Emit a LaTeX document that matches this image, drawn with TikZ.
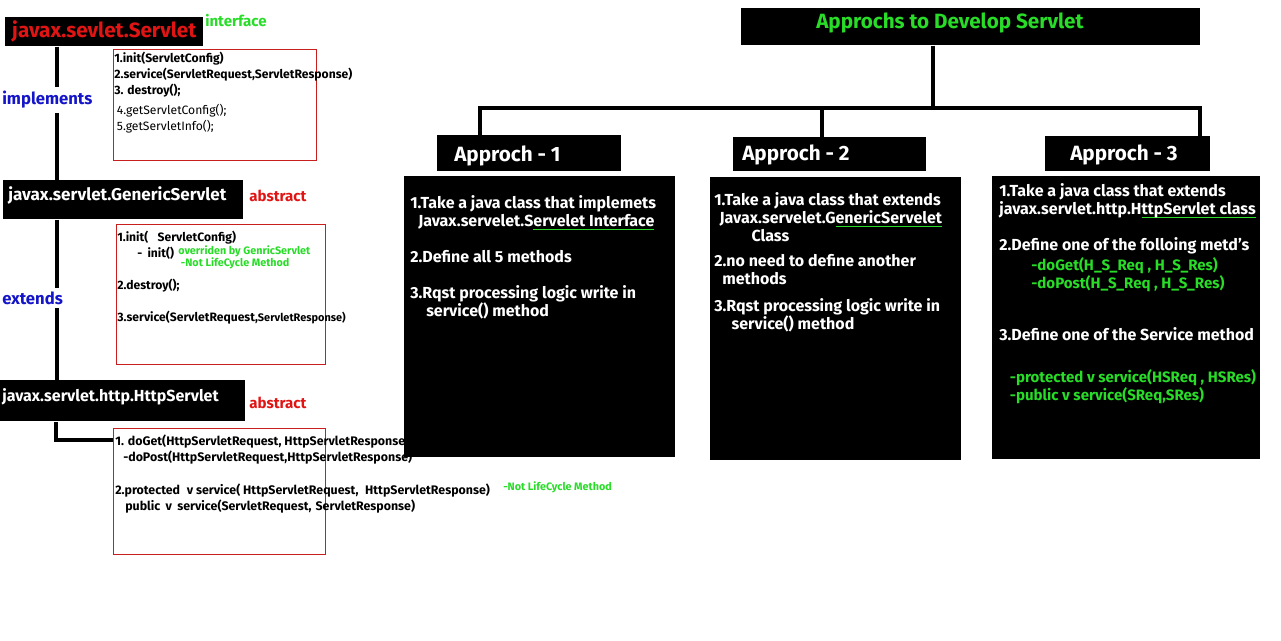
\documentclass[tikz,border=0pt]{standalone}
\usepackage{fontspec}
\setmainfont{Fira Sans}
\definecolor{grn}{RGB}{40,220,40}
\definecolor{redtxt}{RGB}{225,20,20}
\definecolor{bluetxt}{RGB}{20,20,200}
\definecolor{boxred}{RGB}{200,30,30}
\pgfdeclarelayer{bg}
\pgfsetlayers{bg,main}
\newcommand{\gund}[1]{\setbox0\hbox{#1}\rlap{\color{grn}\rule[-3pt]{\wd0}{1pt}}\box0}
\newcommand{\gtxt}[1]{\textcolor{grn}{\fontsize{11.3}{13.5}\selectfont #1}}
\tikzstyle{blk}=[fill=black, inner sep=0pt, anchor=north west]
\tikzstyle{members}=[draw=boxred, line width=0.75pt, inner sep=0pt, anchor=north west]
\tikzstyle{wire}=[-, line width=3.6pt]
\tikzstyle{lbl}=[anchor=west, inner sep=0pt, font=\fontsize{11.3}{13}\selectfont\bfseries]
\tikzstyle{head}=[anchor=west, inner sep=0pt, text=white, font=\fontsize{15.5}{17}\selectfont\bfseries]
\tikzstyle{body}=[anchor=north west, inner sep=0pt, align=left, text=white, font=\fontsize{12}{13.5}\selectfont\bfseries]
\tikzstyle{code}=[anchor=north west, inner sep=0pt, align=left, font=\fontsize{9.1}{12}\selectfont\bfseries]
\tikzstyle{note}=[anchor=north west, inner sep=0pt, align=left, text=grn, font=\fontsize{8.1}{9}\selectfont\bfseries]

\begin{document}
\begin{tikzpicture}[x=0.75pt, y=-0.75pt]
    \useasboundingbox (0,0) rectangle (1281,640);

    % class hierarchy
    \node [blk, minimum width=148.5pt, minimum height=21.75pt, text=redtxt, font=\fontsize{15.5}{17}\selectfont\bfseries] (srv) at (5,17) {javax.sevlet.Servlet};
    \node [lbl, text=grn] (srvkind) at (205,21) {interface};
    \node [members, minimum width=152.25pt, minimum height=83.25pt] (m1) at (113,49) {};
    \node [code] (m1txt) at (114,52) {1.init(ServletConfig)\\
        2.service(ServletRequest,ServletResponse)\\
        3. destroy();\\[3pt]
        \mdseries\hspace{2pt}4.getServletConfig();\\
        \mdseries\hspace{2pt}5.getServletInfo();};

    \node [blk, minimum width=180pt, minimum height=29.25pt] (gen) at (3,180) {};
    \node [lbl, text=white, font=\fontsize{12.8}{14}\selectfont\bfseries] (gentxt) at (8,195) {javax.servlet.GenericServlet};
    \node [lbl, text=redtxt] (genkind) at (249,196) {abstract};
    \node [members, minimum width=156.75pt, minimum height=105pt] (m2) at (116,224) {};
    \node [code] (m2txt) at (117,230.5) {1.init(\hspace{7pt}ServletConfig)\\
        \hspace{15pt}-\hspace{4pt}init()\\[12pt]
        2.destroy();\\[12pt]
        3.service(ServletRequest,{\fontsize{8.2}{9}\selectfont ServletResponse)}};
    \node [note] (m2note) at (178,245) {overriden by GenricServlet\\
        \hspace{2pt}-Not LifeCycle Method};

    \node [blk, minimum width=183.75pt, minimum height=30.75pt] (http) at (0,380) {};
    \node [lbl, text=white, font=\fontsize{12}{14}\selectfont\bfseries] (httptxt) at (2,397) {javax.servlet.http.HttpServlet};
    \node [lbl, text=redtxt] (httpkind) at (249,403) {abstract};
    \node [members, minimum width=159pt, minimum height=94.5pt] (m3) at (113,428) {};
    \node [code, font=\fontsize{9.3}{12}\selectfont\bfseries] (m3txt) at (115,435) {1. doGet(HttpServletRequest, HttpServletResponse)\\
        \hspace{6pt}-doPost(HttpServletRequest,HttpServletResponse)\\[12.75pt]
        2.protected\hspace{5pt}v service( HttpServletRequest,\hspace{5pt}HttpServletResponse)\\
        \hspace{7.5pt}public\hspace{4pt}v\hspace{4pt}service(ServletRequest,\hspace{3pt}ServletResponse)};
    \node [note] (m3note) at (503,481) {-Not LifeCycle Method};

    \node [lbl, text=bluetxt, fill=white, inner ysep=3pt, font=\fontsize{12.5}{14}\selectfont\bfseries] (impl) at (2,100) {implements};
    \node [lbl, text=bluetxt, fill=white, inner ysep=3pt, font=\fontsize{12.5}{14}\selectfont\bfseries] (ext) at (2,298) {extends};

    \coordinate (spine) at (57,0);
    \coordinate (elbow) at (56,440);

    % approaches
    \node [blk, minimum width=344.25pt, minimum height=27.75pt] (title) at (741,8) {};
    \node [head, text=grn] (titletxt) at (816,23) {Approchs to Develop Servlet};

    \node [blk, minimum width=138pt, minimum height=27pt] (ap1) at (437,135) {};
    \node [head] (ap1txt) at (454,156) {Approch - 1};
    \node [blk, minimum width=144.75pt, minimum height=25.5pt] (ap2) at (733,137) {};
    \node [head] (ap2txt) at (742,155) {Approch - 2};
    \node [blk, minimum width=123.75pt, minimum height=26.25pt] (ap3) at (1045,136) {};
    \node [head] (ap3txt) at (1070,155) {Approch - 3};

    \node [blk, minimum width=203.25pt, minimum height=210.75pt] (c1) at (404,176) {};
    \node [body] (c1txt) at (410,195) {1.Take a java class that implemets\\
        \hspace{6pt}Javax.servelet.S\gund{ervelet Interface}\\[13.5pt]
        2.Define all 5 methods\\[13.5pt]
        3.Rqst processing logic write in\\
        \hspace{12pt}service() method};

    \node [blk, minimum width=188.25pt, minimum height=212.25pt] (c2) at (710,177) {};
    \node [body] (c2txt) at (714,192) {1.Take a java class that extends\\
        \hspace{4pt}Javax.servelet.G\gund{enericServelet}\\
        \hspace{28pt}Class\\[5.25pt]
        2.no need to define another\\
        \hspace{6pt}methods\\[6.75pt]
        3.Rqst processing logic write in\\
        \hspace{13pt}service() method};

    \node [blk, minimum width=201pt, minimum height=212.25pt] (c3) at (992,176) {};
    \node [body] (c3txt) at (999,183) {1.Take a java class that extends\\
        javax.servlet.http.H\gund{ttpServlet class}\\[13.5pt]
        2.Define one of the folloing metd's\\[1.5pt]
        \hspace{24pt}\gtxt{-doGet(H\_S\_Req , H\_S\_Res)}\\
        \hspace{24pt}\gtxt{-doPost(H\_S\_Req , H\_S\_Res)}\\[25.5pt]
        3.Define one of the Service method\\[18pt]
        \hspace{8pt}\gtxt{-protected v service(HSReq , HSRes)}\\
        \hspace{8pt}\gtxt{-public v service(SReq,SRes)}};

    \coordinate (fork) at (933,108);
    \coordinate (drop1) at (480,108);
    \coordinate (drop2) at (822,108);
    \coordinate (drop3) at (1200,108);

    \begin{pgfonlayer}{bg}
        \draw [wire] (srv.south -| spine) -- (gen.north -| spine);
        \draw [wire] (gen.south -| spine) -- (http.north -| spine);
        \draw [wire] (http.south -| elbow) |- (m3.west |- elbow);
        \draw [wire] (title.south -| fork) -- (fork);
        \draw [wire] (ap1.north -| drop1) |- (drop3) -- (ap3.north -| drop3);
        \draw [wire] (drop2) -- (ap2.north -| drop2);
    \end{pgfonlayer}
\end{tikzpicture}
\end{document}
